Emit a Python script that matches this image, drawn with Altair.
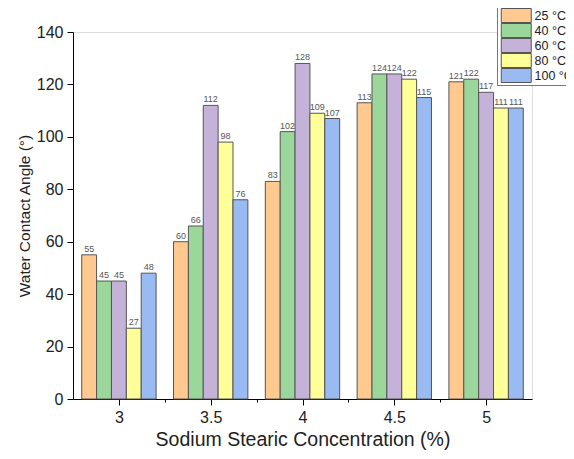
import altair as alt
import pandas as pd

concentrations = ["3", "3.5", "4", "4.5", "5"]
conc_values = [3.0, 3.5, 4.0, 4.5, 5.0]
temperatures = ["25 °C", "40 °C", "60 °C", "80 °C", "100 °C"]
colors = ["#FFC98F", "#9BD69B", "#C4B2D9", "#FFFF99", "#99BBF2"]

angles = {
    "25 °C": [55, 60, 83, 113, 121],
    "40 °C": [45, 66, 102, 124, 122],
    "60 °C": [45, 112, 128, 124, 117],
    "80 °C": [27, 98, 109, 122, 111],
    "100 °C": [48, 76, 107, 115, 111],
}

rows = []
for t in temperatures:
    for c, cv, a in zip(concentrations, conc_values, angles[t]):
        rows.append({"conc": c, "concnum": cv, "temp": t, "angle": a})
df = pd.DataFrame(rows)

W, H = 459, 367

xband = alt.X("conc:N", sort=concentrations, axis=None,
              scale=alt.Scale(paddingInner=0.19, paddingOuter=0.095))
xoff = alt.XOffset("temp:N", sort=temperatures, scale=alt.Scale(paddingInner=0, paddingOuter=0))

yenc = alt.Y(
    "angle:Q",
    scale=alt.Scale(domain=[0, 140], nice=False),
    axis=alt.Axis(
        title="Water Contact Angle (°)",
        values=list(range(0, 141, 10)),
        labelExpr="datum.value % 20 == 0 ? datum.label : ''",
        tickSize={"condition": {"test": "datum.value % 20 != 0", "value": 3}, "value": 6},
        grid=False,
        domain=True,
        domainColor="black",
        tickColor="black",
        labelFontSize=16,
        labelColor="#222",
        titleFontSize=15.5,
        titleFontWeight="normal",
        titleColor="#222",
        labelPadding=4,
        titlePadding=4,
    ),
)

bars = alt.Chart(df).mark_bar(stroke="#555", strokeWidth=1).encode(
    x=xband,
    xOffset=xoff,
    y=yenc,
    color=alt.Color(
        "temp:N",
        sort=temperatures,
        scale=alt.Scale(domain=temperatures, range=colors),
        legend=alt.Legend(
            title=None,
            orient="none",
            legendX=424,
            legendY=-26,
            symbolType="M-1,-1.75H6.5V1.75H-1Z",
            symbolSize=64,
            symbolStrokeColor="#555",
            symbolStrokeWidth=1,
            symbolOpacity=1,
            labelFontSize=12.5,
            labelColor="#222",
            strokeColor="#777",
            fillColor="white",
            padding=2,
            rowPadding=0,
            clipHeight=15,
            labelOffset=23,
        ),
    ),
)

labels = alt.Chart(df).mark_text(dy=-1, fontSize=9, color="#555", baseline="bottom").encode(
    x=xband,
    xOffset=xoff,
    y=alt.Y("angle:Q"),
    text=alt.Text("angle:Q"),
)

axis_layer = alt.Chart(df).mark_point(opacity=0, size=0).encode(
    x=alt.X(
        "concnum:Q",
        scale=alt.Scale(domain=[2.75, 5.25], nice=False, zero=False),
        axis=alt.Axis(
            title="Sodium Stearic Concentration (%)",
            values=[3, 3.25, 3.5, 3.75, 4, 4.25, 4.5, 4.75, 5],
            labelExpr="datum.value % 0.5 == 0 ? format(datum.value, '~g') : ''",
            tickSize={"condition": {"test": "datum.value % 0.5 != 0", "value": 3}, "value": 6},
            grid=False,
            domain=True,
            domainColor="black",
            tickColor="black",
            labelFontSize=16,
            labelColor="#222",
            titleFontSize=19.5,
            titleFontWeight="normal",
            titleColor="#222",
            labelPadding=4,
            titlePadding=5,
            orient="bottom",
        ),
    ),
    y=alt.Y("angle:Q"),
)

chart = (
    alt.layer(alt.layer(bars, labels), axis_layer)
    .resolve_scale(x="independent")
    .properties(
        width=W,
        height=H,
        autosize=alt.AutoSizeParams(type="none"),
        padding={"left": 65, "top": 24, "right": 34, "bottom": 56},
    )
    .configure_view(stroke="transparent", strokeWidth=0, strokeOpacity=0)
    .configure_axis(domain=False, grid=False, gridColor="white", domainColor="white")
    .configure(font="Liberation Sans")
)

chart.save("out.html", embed_options={"renderer": "svg", "actions": False})
